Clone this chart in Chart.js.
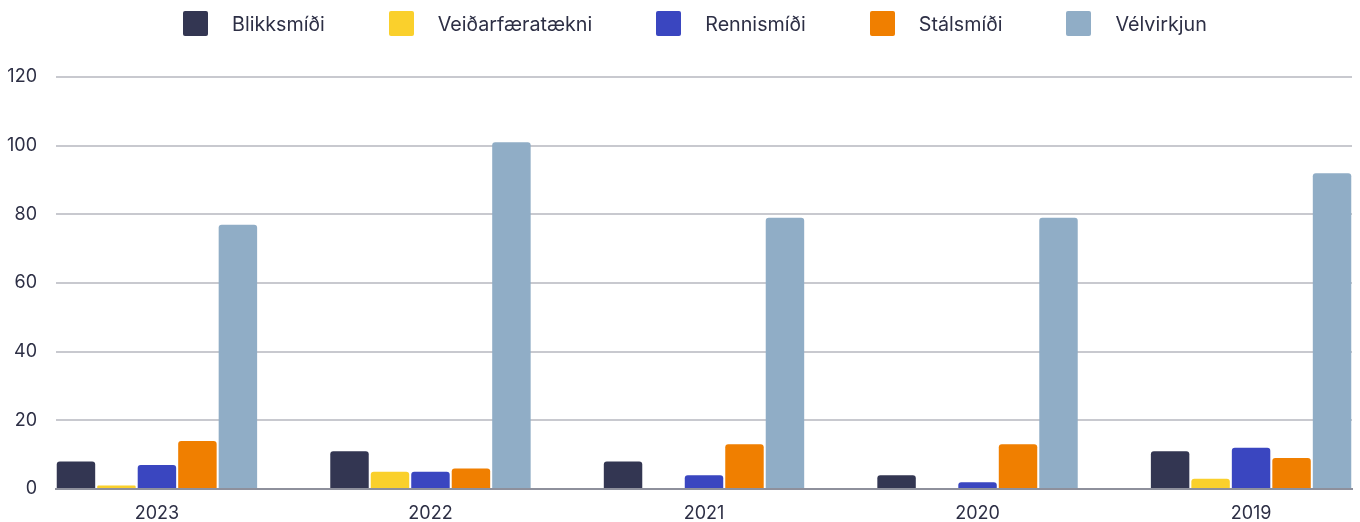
<!DOCTYPE html>
<html>
<head>
<meta charset="utf-8">
<script src="https://cdn.jsdelivr.net/npm/chart.js@4.4.1/dist/chart.umd.min.js"></script>
<style>
  html, body { margin: 0; padding: 0; background: #fff; }
  #wrap { position: relative; width: 1360px; height: 522px; }
  #legend {
    position: absolute; top: 11px; left: 183px;
    display: flex; align-items: center;
    font-family: Inter, "Noto Sans", sans-serif; font-size: 19.7px; color: #2d2f45;
  }
  .item { display: flex; align-items: center; margin-right: 64px; }
  .box { width: 25px; height: 25px; border-radius: 2px; margin-right: 24px; }
</style>
</head>
<body>
<div id="wrap">
  <div id="legend"></div>
  <canvas id="chart" width="1360" height="522"></canvas>
</div>
<script>
// =============================================
// DATA
// =============================================
const years = ['2023', '2022', '2021', '2020', '2019'];
const seriesNames = ['Blikksmíði', 'Veiðarfæratækni', 'Rennismíði', 'Stálsmíði', 'Vélvirkjun'];
const blikksmidi = [8, 11, 8, 4, 11];
const veidarfaeratækni = [1, 5, 0, 0, 3];
const rennismidi = [7, 5, 4, 2, 12];
const stalsmidi = [14, 6, 13, 13, 9];
const velvirkjun = [77, 101, 79, 79, 92];
const yTicks = [0, 20, 40, 60, 80, 100, 120];

const seriesValues = [blikksmidi, veidarfaeratækni, rennismidi, stalsmidi, velvirkjun];
const seriesColors = ['#333652', '#fad02c', '#3a46c0', '#f07f00', '#90adc6'];
const textColor = '#2d2f45';

// Legend (HTML)
document.getElementById('legend').innerHTML = seriesNames.map((name, i) => `
    <div class="item"><div class="box" style="background:${seriesColors[i]}"></div><span>${name}</span></div>
`).join('');

// Chart
const ctx = document.getElementById('chart').getContext('2d');
const chart = new Chart(ctx, {
    type: 'bar',
    data: {
        datasets: seriesNames.map((name, i) => ({
            label: name,
            data: seriesValues[i].map((v, j) => ({ x: j, y: v })),
            backgroundColor: seriesColors[i],
            borderRadius: { topLeft: 3, topRight: 3 },
            borderSkipped: 'bottom',
            categoryPercentage: 0.74,
            barPercentage: 0.95
        }))
    },
    options: {
        responsive: false,
        animation: false,
        layout: { padding: { top: 77, right: 8, bottom: 0, left: 0 } },
        plugins: { legend: { display: false }, tooltip: { enabled: false } },
        scales: {
            x: {
                type: 'linear',
                offset: false,
                bounds: 'data',
                min: -0.369,
                max: 4.369,
                afterBuildTicks: scale => { scale.ticks = years.map((y, i) => ({ value: i })); },
                afterFit: scale => { scale.height = 33; },
                grid: { display: false, offset: false },
                border: { display: true, color: '#8e909c', width: 2 },
                ticks: {
                    callback: value => years[value],
                    color: textColor,
                    font: { family: 'Inter', size: 18 },
                    padding: 6,
                    maxRotation: 0
                }
            },
            y: {
                min: 0,
                max: 120,
                afterBuildTicks: scale => { scale.ticks = yTicks.map(v => ({ value: v })); },
                afterFit: scale => { scale.width = 56; },
                grid: { color: '#c8c9cf', lineWidth: 2, drawTicks: false },
                border: { display: false },
                ticks: {
                    color: textColor,
                    font: { family: 'Inter', size: 18 },
                    padding: 19
                }
            }
        }
    }
});
</script>
</body>
</html>
